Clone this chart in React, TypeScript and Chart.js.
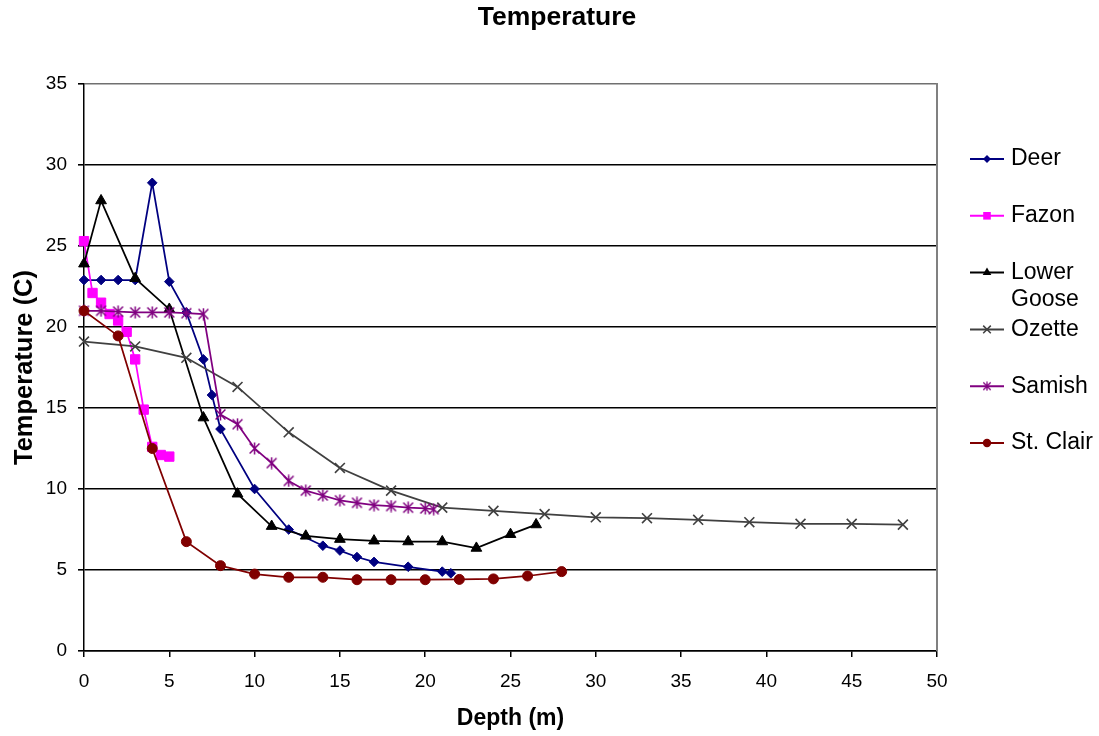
import React, { useEffect, useRef } from 'react';
import { Chart, registerables } from 'chart.js';

Chart.register(...registerables);

const FONT = '"Liberation Sans", Arial, Helvetica, sans-serif';

const chartTitle = 'Temperature';
const xAxisTitle = 'Depth (m)';
const yAxisTitle = 'Temperature (C)';

const seriesNames = ['Deer', 'Fazon', 'Lower Goose', 'Ozette', 'Samish', 'St. Clair'];
const seriesColors = ['#000080', '#FF00FF', '#000000', '#404040', '#800080', '#800000'];
const seriesMarkers = ['rectRot', 'rect', 'triangle', 'crossRot', 'star', 'circle'];

const depthDeer = [0, 1, 2, 3, 4, 5, 6, 7, 7.5, 8, 10, 12, 14, 15, 16, 17, 19, 21, 21.5];
const tempDeer = [22.9, 22.9, 22.9, 22.9, 28.9, 22.8, 20.9, 18.0, 15.8, 13.7, 10.0, 7.5, 6.5, 6.2, 5.8, 5.5, 5.2, 4.9, 4.8];

const depthFazon = [0, 0.5, 1, 1.5, 2, 2.5, 3, 3.5, 4, 4.5, 5];
const tempFazon = [25.3, 22.1, 21.5, 20.8, 20.4, 19.7, 18.0, 14.9, 12.6, 12.1, 12.0];

const depthLowerGoose = [0, 1, 3, 5, 7, 9, 11, 13, 15, 17, 19, 21, 23, 25, 26.5];
const tempLowerGoose = [23.9, 27.8, 23.0, 21.1, 14.4, 9.7, 7.7, 7.1, 6.9, 6.8, 6.75, 6.75, 6.35, 7.2, 7.8];

const depthOzette = [0, 3, 6, 9, 12, 15, 18, 21, 24, 27, 30, 33, 36, 39, 42, 45, 48];
const tempOzette = [19.1, 18.8, 18.1, 16.3, 13.5, 11.3, 9.9, 8.85, 8.65, 8.45, 8.25, 8.2, 8.1, 7.95, 7.85, 7.85, 7.8];

const depthSamish = [0, 1, 2, 3, 4, 5, 6, 7, 8, 9, 10, 11, 12, 13, 14, 15, 16, 17, 18, 19, 20, 20.5];
const tempSamish = [21.0, 21.0, 20.95, 20.9, 20.9, 20.9, 20.85, 20.8, 14.6, 14.0, 12.5, 11.6, 10.5, 9.9, 9.6, 9.3, 9.15, 9.0, 8.95, 8.85, 8.8, 8.75];

const depthStClair = [0, 2, 4, 6, 8, 10, 12, 14, 16, 18, 20, 22, 24, 26, 28];
const tempStClair = [21.0, 19.45, 12.5, 6.75, 5.27, 4.75, 4.55, 4.55, 4.4, 4.4, 4.4, 4.42, 4.45, 4.63, 4.9];

const allDepths = [depthDeer, depthFazon, depthLowerGoose, depthOzette, depthSamish, depthStClair];
const allTemps = [tempDeer, tempFazon, tempLowerGoose, tempOzette, tempSamish, tempStClair];

function makeStar(color: string, size: number, lw: number) {
  const c = document.createElement('canvas');
  c.width = size;
  c.height = size;
  const g = c.getContext('2d')!;
  g.strokeStyle = color;
  g.lineWidth = lw;
  const m = size / 2;
  const r = size / 2 - 0.5;
  const d = r * 0.82;
  g.beginPath();
  g.moveTo(m - d, m - d);
  g.lineTo(m + d, m + d);
  g.moveTo(m + d, m - d);
  g.lineTo(m - d, m + d);
  g.moveTo(m, m - r);
  g.lineTo(m, m + r);
  g.stroke();
  return c;
}

function drawMarker(ctx: CanvasRenderingContext2D, style: string, x: number, y: number, r: number, color: string, star?: HTMLCanvasElement) {
  ctx.save();
  ctx.fillStyle = color;
  ctx.strokeStyle = color;
  ctx.lineWidth = 1.5;
  ctx.beginPath();
  if (style === 'rectRot') {
    ctx.moveTo(x - r, y);
    ctx.lineTo(x, y - r);
    ctx.lineTo(x + r, y);
    ctx.lineTo(x, y + r);
    ctx.closePath();
    ctx.fill();
  } else if (style === 'rect') {
    ctx.rect(x - r, y - r, 2 * r, 2 * r);
    ctx.fill();
  } else if (style === 'triangle') {
    ctx.moveTo(x, y - r);
    ctx.lineTo(x + 0.866 * r, y + 0.5 * r);
    ctx.lineTo(x - 0.866 * r, y + 0.5 * r);
    ctx.closePath();
    ctx.fill();
  } else if (style === 'crossRot') {
    ctx.moveTo(x - r, y - r);
    ctx.lineTo(x + r, y + r);
    ctx.moveTo(x + r, y - r);
    ctx.lineTo(x - r, y + r);
    ctx.stroke();
  } else if (style === 'circle') {
    ctx.arc(x, y, r, 0, Math.PI * 2);
    ctx.fill();
  } else if (style === 'star' && star) {
    ctx.drawImage(star, x - star.width / 2, y - star.height / 2);
  }
  ctx.restore();
}

function wrapText(ctx: CanvasRenderingContext2D, text: string, maxWidth: number) {
  const words = text.split(' ');
  const lines: string[] = [];
  let cur = '';
  for (const w of words) {
    const test = cur ? cur + ' ' + w : w;
    if (cur && ctx.measureText(test).width > maxWidth) {
      lines.push(cur);
      cur = w;
    } else {
      cur = test;
    }
  }
  if (cur) lines.push(cur);
  return lines;
}

export default function App() {
  const canvasRef = useRef<HTMLCanvasElement | null>(null);

  useEffect(() => {
    if (!canvasRef.current) return;
    const starPoint = makeStar('#800080', 13, 1.5);
    const starLegend = makeStar('#800080', 10, 1.3);

    const sizes = [4.8, 6.6, 6.2, 7, 0, 5];
    const datasets = seriesNames.map((name, i) => ({
      label: name,
      data: allDepths[i].map((d, j) => ({ x: d, y: allTemps[i][j] })),
      showLine: true,
      clip: false,
      borderColor: seriesColors[i],
      backgroundColor: seriesColors[i],
      borderWidth: 1.75,
      pointStyle: seriesMarkers[i] === 'star' ? starPoint : seriesMarkers[i],
      pointRadius: seriesMarkers[i] === 'star' ? 6 : sizes[i],
      pointBackgroundColor: seriesColors[i],
      pointBorderColor: seriesColors[i],
      pointBorderWidth: seriesMarkers[i] === 'crossRot' ? 1.6 : 1,
      order: seriesNames.length - i,
      tension: 0,
    }));

    const decor = {
      id: 'decor',
      afterDraw(chart: any) {
        const ctx = chart.ctx as CanvasRenderingContext2D;
        const area = chart.chartArea;
        ctx.save();
        // right border
        ctx.strokeStyle = '#808080';
        ctx.lineWidth = 2;
        ctx.beginPath();
        ctx.moveTo(area.right, area.top - 1);
        ctx.lineTo(area.right, area.bottom);
        ctx.stroke();
        // title
        ctx.fillStyle = '#000';
        ctx.font = `bold 26.5px ${FONT}`;
        ctx.textAlign = 'center';
        ctx.textBaseline = 'middle';
        ctx.fillText(chartTitle, 557, 18);
        // legend
        const lx0 = area.right + 33;
        const lx1 = lx0 + 34;
        const mx = (lx0 + lx1) / 2;
        const tx = lx1 + 7;
        let y = 159;
        const step = 56.8;
        ctx.font = `23px ${FONT}`;
        ctx.textAlign = 'left';
        ctx.textBaseline = 'middle';
        const lsizes = [4, 3.8, 5, 3.8, 0, 4.2];
        seriesNames.forEach((name, i) => {
          ctx.strokeStyle = seriesColors[i];
          ctx.lineWidth = 2;
          ctx.beginPath();
          ctx.moveTo(lx0, y);
          ctx.lineTo(lx1, y);
          ctx.stroke();
          drawMarker(ctx, seriesMarkers[i], mx, y, lsizes[i], seriesColors[i], starLegend);
          ctx.fillStyle = '#000';
          const lines = wrapText(ctx, name, 1099 - tx - 2);
          lines.forEach((ln, k) => ctx.fillText(ln, tx, y + k * 27));
          y += step;
        });
        ctx.restore();
      },
    };

    const chart = new Chart(canvasRef.current, {
      type: 'scatter',
      data: { datasets: datasets as any },
      options: {
        responsive: true,
        maintainAspectRatio: false,
        animation: false,
        layout: { padding: { left: 0, right: 162, top: 84, bottom: 0 } },
        plugins: {
          legend: { display: false },
          title: { display: false },
          tooltip: { enabled: false },
        },
        scales: {
          x: {
            type: 'linear',
            min: 0,
            max: 50,
            ticks: { stepSize: 5, color: '#000', font: { family: FONT, size: 19 }, padding: 13 },
            grid: { drawOnChartArea: false, drawTicks: true, tickLength: 6, color: '#000', lineWidth: 1.5 },
            border: { color: '#000', width: 1.5 },
            title: {
              display: true,
              text: xAxisTitle,
              color: '#000',
              font: { family: FONT, size: 23, weight: 'bold' },
              padding: { top: 0, bottom: 4 },
            },
            afterFit: (s: any) => {
              s.height = 85;
            },
          },
          y: {
            type: 'linear',
            min: 0,
            max: 35,
            ticks: { stepSize: 5, color: '#000', font: { family: FONT, size: 19 }, padding: 11 },
            grid: {
              color: (c: any) => (c.tick && c.tick.value === 35 ? '#707070' : '#000'),
              tickColor: '#000',
              lineWidth: 1.6,
              tickLength: 6,
            },
            border: { color: '#000', width: 1.5 },
            title: {
              display: true,
              text: yAxisTitle,
              color: '#000',
              font: { family: FONT, size: 25.5, weight: 'bold' },
              padding: { top: 10, bottom: 0 },
            },
            afterFit: (s: any) => {
              s.width = 84;
            },
          },
        },
      } as any,
      plugins: [decor],
    });
    return () => chart.destroy();
  }, []);

  return (
    <div style={{ position: 'fixed', left: 0, top: 0, width: 1099, height: 736, background: '#fff' }}>
      <canvas ref={canvasRef} />
    </div>
  );
}
